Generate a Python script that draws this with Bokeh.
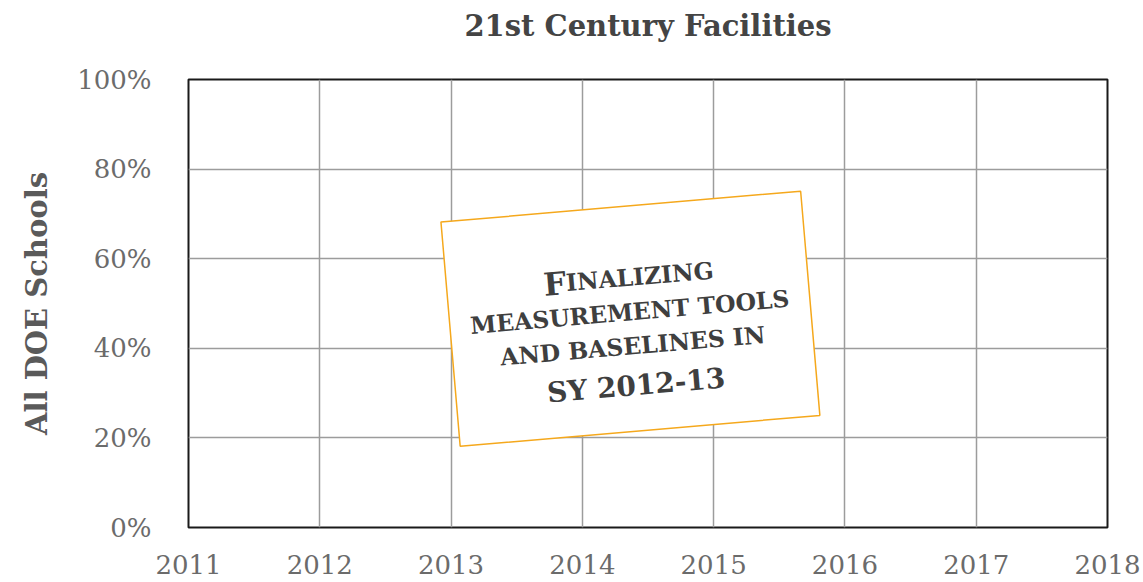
import math
from bokeh.plotting import figure
from bokeh.models import Range1d, FixedTicker, Title
from bokeh.core.properties import value
from bokeh.embed import file_html
from bokeh.resources import INLINE

# ---------------- data ----------------
title_text = "21st Century Facilities"
y_axis_title = "All DOE Schools"
years = [2011, 2012, 2013, 2014, 2015, 2016, 2017, 2018]
year_labels = ["2011", "2012", "2013", "2014", "2015", "2016", "2017", "2018"]
pct_ticks = [0, 20, 40, 60, 80, 100]
pct_labels = ["0%", "20%", "40%", "60%", "80%", "100%"]

note_x = 2014.366      # centre of the tilted note (year axis)
note_y = 46.6          # centre of the tilted note (percent axis)
note_angle_deg = 4.9
note_big_first = "F"
note_small_first = "INALIZING"
note_small_lines = ["MEASUREMENT TOOLS", "AND BASELINES IN"]
note_last_line = "SY 2012-13"

# ---------------- layout ----------------
FRAME_W, FRAME_H = 919, 448
FONT = "DejaVu Serif"

p = figure(
    x_range=Range1d(years[0], years[-1]),
    y_range=Range1d(pct_ticks[0], pct_ticks[-1]),
    frame_width=FRAME_W, frame_height=FRAME_H,
    min_border_left=188, min_border_right=34,
    min_border_top=79, min_border_bottom=54,
    output_backend="svg", toolbar_location=None,
)
p.background_fill_color = "white"
p.border_fill_color = "white"
p.outline_line_color = "#1a1a1a"
p.outline_line_width = 2

PX_X = FRAME_W / (years[-1] - years[0])
PX_Y = FRAME_H / (pct_ticks[-1] - pct_ticks[0])

# spacer (closest to the frame) then the real title above it
p.add_layout(Title(text=" ", text_font_size="1px", standoff=34), "above")
p.add_layout(Title(text=title_text, align="center", standoff=0,
                   text_font=FONT, text_font_size="29px",
                   text_font_style="bold", text_color="#444444"), "above")

# axes
p.xaxis.ticker = FixedTicker(ticks=years)
p.xaxis.major_label_overrides = {y: l for y, l in zip(years, year_labels)}
p.yaxis.ticker = FixedTicker(ticks=pct_ticks)
p.yaxis.major_label_overrides = {t: l for t, l in zip(pct_ticks, pct_labels)}
for ax in (p.xaxis, p.yaxis):
    ax.axis_line_color = None
    ax.major_tick_line_color = None
    ax.minor_tick_line_color = None
    ax.major_label_text_font = FONT
    ax.major_label_text_color = "#6b6b6b"
p.xaxis.major_label_text_font_size = "26px"
p.yaxis.major_label_text_font_size = "26px"
p.xaxis.major_label_standoff = 21
p.yaxis.major_label_standoff = 31
p.yaxis.axis_label = y_axis_title
p.yaxis.axis_label_text_font = FONT
p.yaxis.axis_label_text_font_size = "29px"
p.yaxis.axis_label_text_font_style = "bold"
p.yaxis.axis_label_text_color = "#5a5a5a"
p.yaxis.axis_label_standoff = 20

for g in (p.xgrid, p.ygrid):
    g.grid_line_color = "#9c9c9c"
    g.grid_line_width = 1.5
p.xgrid.ticker = FixedTicker(ticks=years)
p.ygrid.ticker = FixedTicker(ticks=pct_ticks)

# ---------------- tilted note ----------------
theta = math.radians(note_angle_deg)


def place(u, v):
    """u along the text direction, v downward across it (screen px) -> data."""
    dx = u * math.cos(theta) + v * math.sin(theta)
    dy = -u * math.sin(theta) + v * math.cos(theta)
    return note_x + dx / PX_X, note_y - dy / PX_Y


p.rect(x=[note_x], y=[note_y], width=361, height=225,
       width_units="screen", height_units="screen", angle=theta,
       fill_color="white", line_color="#f5a81c", line_width=1.5)

TXT = "#3f3f3f"
SMALL = "23.5px"
# line 1: small caps "FINALIZING"
split_u = -61
bx, by = place(split_u, -41)
p.text(x=[bx], y=[by], text=[note_big_first], angle=theta,
       text_font=value(FONT), text_font_style="bold", text_font_size="32px",
       text_color=TXT, text_align="right", text_baseline="alphabetic")
p.text(x=[bx], y=[by], text=[note_small_first], angle=theta,
       text_font=value(FONT), text_font_style="bold", text_font_size=SMALL,
       text_color=TXT, text_align="left", text_baseline="alphabetic")

# lines 2-3
vs = [-6.4, 27.6]
xs, ys = zip(*[place(0, v) for v in vs])
p.text(x=list(xs), y=list(ys), text=note_small_lines, angle=theta,
       text_font=value(FONT), text_font_style="bold", text_font_size=SMALL,
       text_color=TXT, text_align="center", text_baseline="alphabetic")

# line 4
lx, ly = place(0, 67)
p.text(x=[lx], y=[ly], text=[note_last_line], angle=theta,
       text_font=value(FONT), text_font_style="bold", text_font_size="28px",
       text_color=TXT, text_align="center", text_baseline="alphabetic")

open("out.html", "w").write(file_html(p, INLINE))
